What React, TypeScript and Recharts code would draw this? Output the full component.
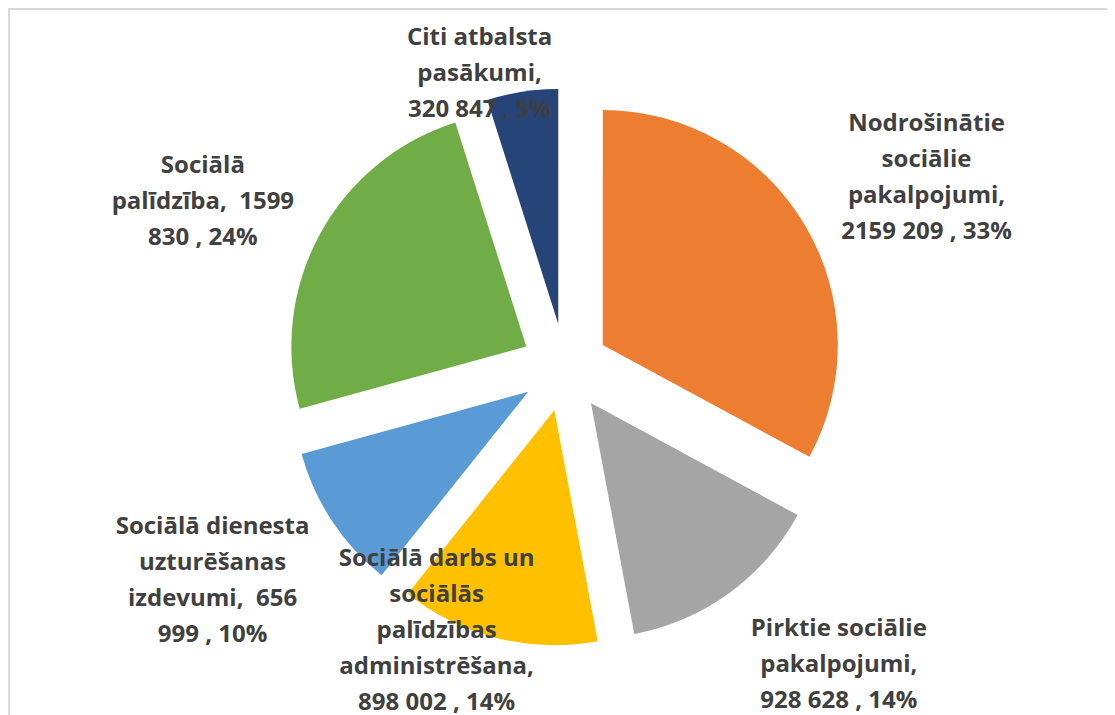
import React from 'react';
import { PieChart, Pie, Cell, Sector } from 'recharts';

if (typeof document !== 'undefined') {
  document.documentElement.style.overflow = 'hidden';
}

const categories = [
  'Nodrošinātie sociālie pakalpojumi',
  'Pirktie sociālie pakalpojumi',
  'Sociālā darbs un sociālās palīdzības administrēšana',
  'Sociālā dienesta uzturēšanas izdevumi',
  'Sociālā palīdzība',
  'Citi atbalsta pasākumi',
];
const values = [2159209, 928628, 898002, 656999, 1599830, 320847];
const colors = ['#ED7D31', '#A5A5A5', '#FFC000', '#5B9BD5', '#70AD47', '#264478'];

// label layout (polar placement relative to the pie centre)
const labelRadius = [409, 403, 291, 411, 399, 308];
const labelAngleShift = [2.9, -6.7, 12.2, 2.4, -3.7, -7.3];
const labelWrapWidth = [205, 190, 207, 200, 193, 160];

const data = categories.map((name, i) => ({ name, value: values[i] }));

const EXPLODE = 44;
const FONT_FAMILY = 'Open Sans';
const FONT_SIZE = 24;
const LINE_GAP = 36;
const FONT = `bold ${FONT_SIZE}px "${FONT_FAMILY}"`;

let ctx: CanvasRenderingContext2D | null = null;
const measure = (s: string) => {
  if (!ctx && typeof document !== 'undefined') {
    ctx = document.createElement('canvas').getContext('2d');
  }
  if (!ctx) return s.length * 12;
  ctx.font = FONT;
  return ctx.measureText(s).width;
};

const wrap = (text: string, maxW: number) => {
  const tokens = text.split(' ');
  const lines: string[] = [];
  let cur = '';
  tokens.forEach((t, i) => {
    if (i === 0) {
      cur = t;
      return;
    }
    const cand = cur + ' ' + t;
    if (measure(cand.trim()) <= maxW || cur.trim() === '') {
      cur = cand;
    } else {
      lines.push(cur.trim());
      cur = t;
    }
  });
  if (cur.trim()) lines.push(cur.trim());
  return lines;
};

// number format "# ###" (only the last group separated)
const fmt = (v: number) => {
  const s = String(v);
  return s.length > 3 ? `${s.slice(0, -3)} ${s.slice(-3)}` : s;
};

const ExplodedSector = (props: any) => {
  const { cx, cy, midAngle } = props;
  const rad = (-midAngle * Math.PI) / 180;
  return (
    <Sector
      cx={cx + EXPLODE * Math.cos(rad)}
      cy={cy + EXPLODE * Math.sin(rad)}
      innerRadius={props.innerRadius}
      outerRadius={props.outerRadius}
      startAngle={props.startAngle}
      endAngle={props.endAngle}
      fill={props.fill}
      stroke="none"
    />
  );
};

const renderLabel = (props: any) => {
  const { cx, cy, midAngle, index, value, percent } = props;
  const name = categories[index];
  const cw = 90 - midAngle + labelAngleShift[index];
  const r = labelRadius[index];
  const rad = (cw * Math.PI) / 180;
  const x = cx + r * Math.sin(rad);
  const y = cy - r * Math.cos(rad);
  const text = `${name},  ${fmt(value)} , ${Math.round(percent * 100)}%`;
  const lines = wrap(text, labelWrapWidth[index]);
  const n = lines.length;
  return (
    <text
      key={`lbl-${index}`}
      x={x}
      y={y}
      textAnchor="middle"
      fill="#404040"
      style={{ fontFamily: FONT_FAMILY, fontWeight: 700, fontSize: FONT_SIZE, whiteSpace: 'pre' }}
    >
      {lines.map((l, i) => (
        <tspan key={i} x={x} y={y + 9 + (i - (n - 1) / 2) * LINE_GAP}>
          {l}
        </tspan>
      ))}
    </text>
  );
};

export default function App() {
  return (
    <div style={{ width: 1103, height: 720, border: '2px solid #D9D9D9', background: '#fff' }}>
      <PieChart width={1103} height={720}>
        <Pie
          data={data}
          dataKey="value"
          nameKey="name"
          cx={550}
          cy={352.5}
          outerRadius={235}
          startAngle={90}
          endAngle={-270}
          stroke="none"
          isAnimationActive={false}
          shape={ExplodedSector}
          label={renderLabel}
          labelLine={false}
        >
          {data.map((d, i) => (
            <Cell key={d.name} fill={colors[i]} />
          ))}
        </Pie>
      </PieChart>
    </div>
  );
}
